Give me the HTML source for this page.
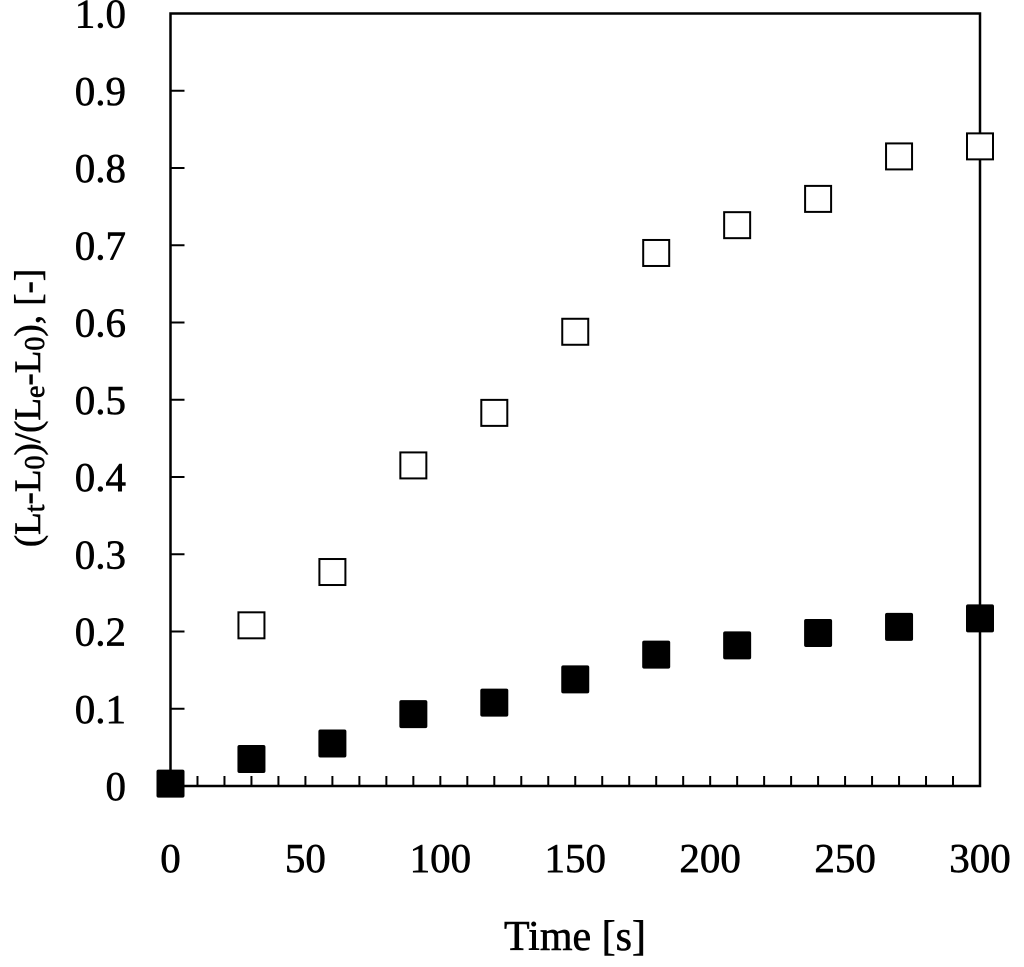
<!DOCTYPE html>
<html><head><meta charset="utf-8"><style>
body{margin:0;background:#fff}
svg text{font-family:"Liberation Serif",serif;fill:#000;stroke:#000;stroke-width:0.6}
</style></head><body>
<svg width="1024" height="962" viewBox="0 0 1024 962">
<g id="axes"></g>
<g id="marks"></g>
<text x="575" y="950" font-size="42" text-anchor="middle">Time [s]</text>
<text transform="translate(40,408) rotate(-90)" font-size="37" text-anchor="middle">(L<tspan font-size="28" dy="4">t</tspan><tspan dy="-4">-L</tspan><tspan font-size="28" dy="4">0</tspan><tspan dy="-4">)/(L</tspan><tspan font-size="28" dy="4">e</tspan><tspan dy="-4">-L</tspan><tspan font-size="28" dy="4">0</tspan><tspan dy="-4">), [-]</tspan></text>
</svg>
<script>
const times=[0,30,60,90,120,150,180,210,240,270,300];
const filledVals=[0.003,0.035,0.055,0.093,0.108,0.138,0.170,0.182,0.198,0.206,0.217];
const openTimes=[30,60,90,120,150,180,210,240,270,300];
const openVals=[0.208,0.277,0.415,0.483,0.588,0.690,0.726,0.760,0.815,0.828];
const xTickLabels=[0,50,100,150,200,250,300];
const yTickLabels=["0","0.1","0.2","0.3","0.4","0.5","0.6","0.7","0.8","0.9","1.0"];
const L=170.5,R=980,T=13.5,B=786;
const xs=v=>L+(R-L)*v/300;
const ys=v=>B-(B-T)*v/1.0;
const NS="http://www.w3.org/2000/svg";
const ax=document.getElementById('axes'),mk=document.getElementById('marks');
function el(t,a,p){const e=document.createElementNS(NS,t);for(const k in a)e.setAttribute(k,a[k]);p.appendChild(e);return e;}
const fr=el('rect',{x:L,y:T,width:R-L,height:B-T,fill:'none',stroke:'#000','stroke-width':2.5},ax);


for(let s=10;s<300;s+=10){const t=el('line',{x1:xs(s),x2:xs(s),y1:B,y2:B-10,stroke:'#000','stroke-width':2},ax);

}
xTickLabels.forEach(v=>{const t=el('text',{x:xs(v),y:872,'font-size':41,'text-anchor':'middle'},ax);t.textContent=v;

});
yTickLabels.forEach((lab,i)=>{const v=i/10;
if(i>0&&i<10){const t=el('line',{x1:L,x2:L+14,y1:ys(v),y2:ys(v),stroke:'#000','stroke-width':2},ax);

}
const tx=el('text',{x:126,y:ys(v)+14,'font-size':41,'text-anchor':'end'},ax);tx.textContent=lab;

});
const S=28;
times.forEach((t,i)=>{const r=el('rect',{x:xs(t)-S/2,y:ys(filledVals[i])-S/2,width:S,height:S,rx:2,fill:'#000'},mk);

});
openTimes.forEach((t,i)=>{const r=el('rect',{x:xs(t)-13,y:ys(openVals[i])-13,width:26,height:26,fill:'#fff',stroke:'#000','stroke-width':2},mk);

});
</script>
</body></html>
